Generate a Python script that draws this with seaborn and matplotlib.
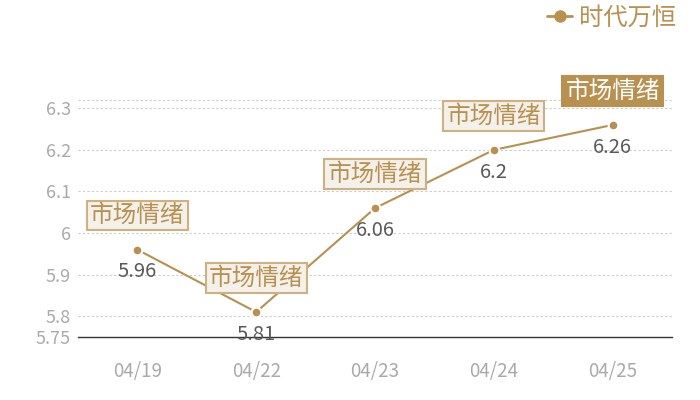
import matplotlib
matplotlib.use("Agg")
import matplotlib.pyplot as plt
import seaborn as sns
import pandas as pd

dates = ["04/19", "04/22", "04/23", "04/24", "04/25"]
values = [5.96, 5.81, 6.06, 6.2, 6.26]
series_name = "时代万恒"
box_labels = ["市场情绪", "市场情绪", "市场情绪", "市场情绪", "市场情绪"]
yticks = [5.75, 5.8, 5.9, 6.0, 6.1, 6.2, 6.3]
ytick_labels = ["5.75", "5.8", "5.9", "6", "6.1", "6.2", "6.3"]

sns.set_theme(style="white")
plt.rcParams['font.family'] = ['Noto Sans CJK SC', 'DejaVu Sans']

gold = "#b8904f"
df = pd.DataFrame({"date": dates, "value": values, "series": series_name})

fig = plt.figure(figsize=(7, 4), dpi=100)
ax = fig.add_axes([78/700, 1-337/400, 594/700, 237/400])

sns.lineplot(data=df, x="date", y="value", hue="series", palette=[gold], ax=ax,
             marker="o", markersize=7, markeredgecolor="white", markeredgewidth=1.5,
             linewidth=1.5, sort=False, zorder=3)

ax.set_xlim(-0.5, len(dates) - 0.5)
ax.set_ylim(5.75, 6.32)
ax.set_yticks(yticks)
ax.set_yticklabels(ytick_labels)
ax.set_xlabel("")
ax.set_ylabel("")

for y in yticks[1:]:
    ax.axhline(y, color="#cccccc", linestyle=(0, (2, 2)), linewidth=0.8, zorder=0)
ax.axhline(ax.get_ylim()[1], color="#cccccc", linestyle=(0, (2, 2)), linewidth=0.8, zorder=0)

for s in ["top", "right", "left"]:
    ax.spines[s].set_visible(False)
ax.spines["bottom"].set_color("#333333")
ax.spines["bottom"].set_linewidth(1)

ax.tick_params(axis="y", colors="#aaaaaa", labelsize=13, length=0, pad=5)
ax.tick_params(axis="x", colors="#aaaaaa", labelsize=13.5, length=0, pad=17)
for lbl in ax.get_yticklabels() + ax.get_xticklabels():
    lbl.set_color("#aaaaaa")

for i, (d, v) in enumerate(zip(dates, values)):
    ax.annotate(f"{v:g}", (i, v), xytext=(0, -16), textcoords="offset points",
                ha="center", va="center", fontsize=14.5, color="#595959", zorder=5,
                annotation_clip=False)
    last = i == len(dates) - 1
    ax.annotate(box_labels[i], (i, v), xytext=(0, 24.5), textcoords="offset points",
                ha="center", va="center", fontsize=17,
                color="white" if last else gold, zorder=6, annotation_clip=False,
                bbox=dict(boxstyle="square,pad=0.14",
                          facecolor=gold if last else "#f4f0ea",
                          edgecolor=gold if last else "#cfb083", linewidth=1.5))

leg = ax.legend(loc="upper right", bbox_to_anchor=((676-78)/594, (337-5)/237), frameon=False,
                fontsize=17.5, handlelength=1.0, handletextpad=0.3, borderaxespad=0,
                borderpad=0)
for t in leg.get_texts():
    t.set_color(gold)
for h in leg.legend_handles:
    h.set_markersize(9)
    h.set_markeredgewidth(0)
    h.set_linewidth(2)

fig.savefig("out.png", dpi=100)
